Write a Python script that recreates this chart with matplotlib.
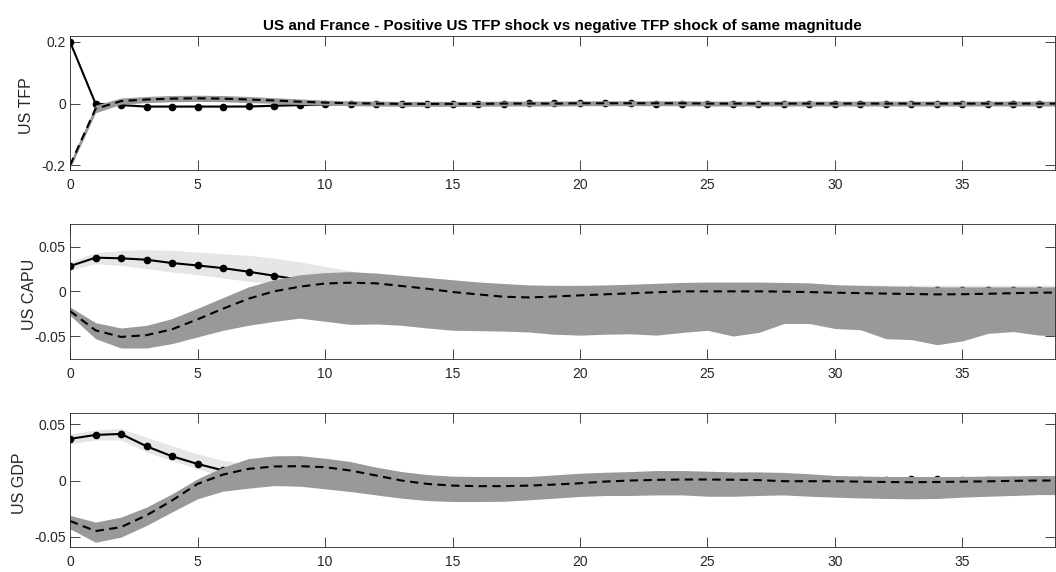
"""Impulse responses, US and France: positive US TFP shock vs a negative
TFP shock of the same size. Solid line = positive shock (light band),
dashed line = negative shock (dark band). Saves out.png.
"""

import matplotlib
matplotlib.use("Agg")
import matplotlib.pyplot as plt
import numpy as np

horizon = list(range(40))
x_ticks = [0, 5, 10, 15, 20, 25, 30, 35]

# ---- US TFP --------------------------------------------------------
tfp_pos = [0.2, 0.0, -0.005, -0.0097, -0.0097, -0.0097, -0.0097, -0.0095, -0.007, -0.005,
           -0.003, -0.002, -0.001, 0.0, 0.0, 0.0, 0.0, 0.0, 0.001, 0.001,
           0.001, 0.001, 0.001, 0.0, 0.0, 0.0, 0.0, 0.0, 0.0, 0.0,
           0.0, 0.0, 0.0, 0.0, 0.0, 0.0, 0.0, 0.0, 0.0, 0.0]
tfp_pos_hi = [0.204, 0.004, -0.001, -0.006, -0.006, -0.006, -0.006, -0.006, -0.003, -0.001,
              0.001, 0.002, 0.003, 0.004, 0.004, 0.004, 0.004, 0.004, 0.005, 0.005,
              0.005, 0.005, 0.005, 0.004, 0.004, 0.004, 0.004, 0.004, 0.004, 0.004,
              0.004, 0.004, 0.004, 0.004, 0.004, 0.004, 0.004, 0.004, 0.004, 0.004]
tfp_pos_lo = [0.196, -0.004, -0.009, -0.013, -0.013, -0.013, -0.013, -0.013, -0.011, -0.009,
              -0.007, -0.006, -0.005, -0.004, -0.004, -0.004, -0.004, -0.004, -0.003, -0.003,
              -0.003, -0.003, -0.003, -0.004, -0.004, -0.004, -0.004, -0.004, -0.004, -0.004,
              -0.004, -0.004, -0.004, -0.004, -0.004, -0.004, -0.004, -0.004, -0.004, -0.004]
tfp_neg = [-0.2, -0.017, 0.008, 0.013, 0.016, 0.017, 0.016, 0.013, 0.01, 0.006,
           0.003, 0.001, 0.0, -0.001, -0.001, -0.001, -0.001, 0.0, 0.0, 0.0,
           0.001, 0.001, 0.001, 0.001, 0.001, 0.0, 0.0, 0.0, 0.0, 0.0,
           0.0, 0.0, 0.0, 0.0, 0.0, 0.0, 0.0, 0.0, 0.0, 0.0]
tfp_neg_hi = [-0.19, -0.005, 0.018, 0.023, 0.026, 0.027, 0.026, 0.023, 0.019, 0.015,
              0.011, 0.009, 0.008, 0.007, 0.007, 0.007, 0.007, 0.008, 0.008, 0.008,
              0.009, 0.009, 0.009, 0.009, 0.009, 0.008, 0.008, 0.008, 0.008, 0.008,
              0.008, 0.008, 0.008, 0.008, 0.008, 0.008, 0.008, 0.008, 0.008, 0.008]
tfp_neg_lo = [-0.21, -0.03, -0.002, 0.003, 0.006, 0.007, 0.006, 0.003, 0.001, -0.003,
              -0.005, -0.007, -0.008, -0.009, -0.009, -0.009, -0.009, -0.008, -0.008, -0.008,
              -0.007, -0.007, -0.007, -0.007, -0.007, -0.008, -0.008, -0.008, -0.008, -0.008,
              -0.008, -0.008, -0.008, -0.008, -0.008, -0.008, -0.008, -0.008, -0.008, -0.008]

# ---- US CAPU -------------------------------------------------------
capu_pos = [0.0283, 0.0377, 0.037, 0.0354, 0.0317, 0.029, 0.026, 0.022, 0.0175, 0.013,
            0.009, 0.006, 0.004, 0.003, 0.002, 0.002, 0.002, 0.002, 0.002, 0.002,
            0.002, 0.002, 0.002, 0.002, 0.002, 0.002, 0.002, 0.002, 0.002, 0.002,
            0.0015, 0.0015, 0.0015, 0.0018, 0.0018, 0.0018, 0.0018, 0.0018, 0.0018, 0.0018]
capu_pos_hi = [0.0328, 0.0433, 0.0459, 0.0466, 0.046, 0.044, 0.0421, 0.0403, 0.0373, 0.033,
               0.028, 0.023, 0.018, 0.015, 0.012, 0.010, 0.009, 0.008, 0.007, 0.006,
               0.006, 0.006, 0.006, 0.006, 0.006, 0.006, 0.006, 0.006, 0.006, 0.006,
               0.0065, 0.0068, 0.007, 0.007, 0.007, 0.007, 0.007, 0.007, 0.007, 0.007]
capu_pos_lo = [0.0235, 0.031, 0.029, 0.0254, 0.0216, 0.0187, 0.0149, 0.0112, 0.0086, 0.005,
               0.002, -0.001, -0.002, -0.003, -0.003, -0.003, -0.003, -0.003, -0.003, -0.003,
               -0.003, -0.003, -0.003, -0.003, -0.003, -0.003, -0.003, -0.003, -0.003, -0.003,
               -0.003, -0.003, -0.003, -0.003, -0.003, -0.003, -0.003, -0.003, -0.003, -0.003]
capu_neg = [-0.022, -0.0436, -0.051, -0.049, -0.0425, -0.0313, -0.0194, -0.0082, 0.0, 0.0052,
            0.0088, 0.0097, 0.009, 0.006, 0.003, -0.0007, -0.0034, -0.006, -0.0068, -0.0058,
            -0.0045, -0.0033, -0.0022, -0.001, 0.0, 0.0, 0.0, 0.0, -0.0003, -0.0008,
            -0.0015, -0.002, -0.0025, -0.003, -0.0034, -0.0032, -0.0027, -0.002, -0.0015, -0.0012]
capu_neg_hi = [-0.0175, -0.035, -0.041, -0.038, -0.0305, -0.019, -0.007, 0.005, 0.013, 0.0185,
               0.021, 0.022, 0.0205, 0.018, 0.0155, 0.013, 0.0105, 0.0088, 0.0072, 0.0067,
               0.0067, 0.0072, 0.008, 0.009, 0.01, 0.0104, 0.0104, 0.0104, 0.01, 0.0095,
               0.0075, 0.0068, 0.006, 0.0055, 0.005, 0.005, 0.005, 0.005, 0.005, 0.005]
capu_neg_lo = [-0.0268, -0.053, -0.0634, -0.0634, -0.0585, -0.051, -0.0436, -0.038, -0.0336, -0.030,
               -0.0335, -0.037, -0.0365, -0.038, -0.041, -0.0435, -0.044, -0.0445, -0.0455, -0.048,
               -0.049, -0.048, -0.0475, -0.049, -0.046, -0.0436, -0.05, -0.046, -0.036, -0.036,
               -0.0416, -0.043, -0.053, -0.054, -0.0597, -0.0555, -0.047, -0.045, -0.049, -0.05]

# ---- US GDP --------------------------------------------------------
gdp_pos = [0.0371, 0.0406, 0.0415, 0.0305, 0.0216, 0.0148, 0.009, 0.007, 0.006, 0.005,
           0.004, 0.003, 0.002, 0.001, 0.0005, 0.0, 0.0, 0.0, 0.0, 0.0005,
           0.001, 0.0015, 0.002, 0.002, 0.002, 0.002, 0.002, 0.0015, 0.001, 0.0005,
           0.0005, 0.0005, 0.0005, 0.001, 0.001, 0.0005, 0.0005, 0.0005, 0.0005, 0.0005]
gdp_pos_hi = [0.0415, 0.045, 0.0465, 0.0385, 0.031, 0.0237, 0.0178, 0.015, 0.013, 0.012,
              0.011, 0.010, 0.009, 0.007, 0.005, 0.003, 0.003, 0.003, 0.003, 0.004,
              0.005, 0.006, 0.006, 0.006, 0.006, 0.006, 0.006, 0.006, 0.006, 0.004,
              0.003, 0.003, 0.003, 0.003, 0.003, 0.003, 0.003, 0.003, 0.003, 0.003]
gdp_pos_lo = [0.0326, 0.0362, 0.0362, 0.0252, 0.0178, 0.0104, 0.004, 0.0, -0.004, -0.005,
              -0.006, -0.006, -0.006, -0.006, -0.006, -0.006, -0.006, -0.006, -0.006, -0.006,
              -0.005, -0.005, -0.005, -0.005, -0.005, -0.005, -0.005, -0.005, -0.005, -0.005,
              -0.005, -0.005, -0.005, -0.005, -0.005, -0.005, -0.005, -0.005, -0.005, -0.005]
gdp_neg = [-0.036, -0.045, -0.0415, -0.031, -0.0178, -0.003, 0.0053, 0.0104, 0.0125, 0.0128,
           0.0119, 0.0089, 0.0045, 0.0, -0.003, -0.0045, -0.005, -0.005, -0.0045, -0.0036,
           -0.0024, -0.0009, 0.0, 0.0006, 0.0009, 0.0009, 0.0007, 0.0004, -0.0006, -0.0006,
           -0.0006, -0.001, -0.0013, -0.0015, -0.0013, -0.001, -0.0007, -0.0003, 0.0, 0.0]
gdp_neg_hi = [-0.031, -0.037, -0.0326, -0.0237, -0.0119, 0.0015, 0.0119, 0.0195, 0.022, 0.0222,
              0.0199, 0.0169, 0.0119, 0.008, 0.0053, 0.0039, 0.0036, 0.0036, 0.0036, 0.005,
              0.0065, 0.0074, 0.008, 0.0089, 0.0089, 0.0083, 0.0077, 0.0077, 0.0072, 0.006,
              0.0045, 0.004, 0.0036, 0.0036, 0.0036, 0.0036, 0.004, 0.0042, 0.0045, 0.0045]
gdp_neg_lo = [-0.043, -0.055, -0.0504, -0.04, -0.028, -0.0163, -0.0095, -0.0068, -0.0045, -0.005,
              -0.0074, -0.0098, -0.0128, -0.0157, -0.0178, -0.0187, -0.0187, -0.0185, -0.0172, -0.0157,
              -0.0142, -0.0133, -0.0133, -0.0128, -0.0128, -0.014, -0.014, -0.0133, -0.0128, -0.014,
              -0.0148, -0.0155, -0.016, -0.0163, -0.016, -0.0148, -0.014, -0.0133, -0.0125, -0.0125]

panels = [
    ("US TFP", tfp_pos, tfp_pos_lo, tfp_pos_hi, tfp_neg, tfp_neg_lo, tfp_neg_hi,
     (-0.215, 0.22), [-0.2, 0, 0.2]),
    ("US CAPU", capu_pos, capu_pos_lo, capu_pos_hi, capu_neg, capu_neg_lo, capu_neg_hi,
     (-0.0757, 0.0754), [-0.05, 0, 0.05]),
    ("US GDP", gdp_pos, gdp_pos_lo, gdp_pos_hi, gdp_neg, gdp_neg_lo, gdp_neg_hi,
     (-0.0592, 0.060), [-0.05, 0, 0.05]),
]

# axes boxes in figure fractions (left, bottom, width, height)
boxes = [
    (0.0663, 0.7028, 0.9328, 0.235),
    (0.0663, 0.3724, 0.9328, 0.236),
    (0.0663, 0.0437, 0.9328, 0.234),
]
# right edge of each y label, in axes fraction
label_x = [-0.037, -0.034, -0.044]

plt.rcParams["font.family"] = ["Liberation Sans", "DejaVu Sans"]
plt.rcParams["axes.unicode_minus"] = False

fig = plt.figure(figsize=(10.56, 5.72), dpi=100)
edge = "#262626"

for (label, pos, pos_lo, pos_hi, neg, neg_lo, neg_hi, ylim, yticks), box, lx in zip(
        panels, boxes, label_x):
    ax = fig.add_axes(box)
    x = np.array(horizon)
    # positive shock: light band then solid line with markers
    ax.fill_between(x, pos_lo, pos_hi, color="#e6e6e6", linewidth=0, zorder=1)
    ax.plot(x, pos, color="black", linewidth=1.5, marker="o", markersize=4.5, zorder=2)
    # negative shock: dark band drawn on top of it, dashed line last
    ax.fill_between(x, neg_lo, neg_hi, color="#999999", linewidth=0, zorder=3)
    ax.plot(x, neg, color="black", linewidth=1.5, linestyle="--", dashes=(4, 2.6), zorder=4)

    ax.set_xlim(0, 38.63)
    ax.set_ylim(*ylim)
    ax.set_xticks(x_ticks)
    ax.set_yticks(yticks)
    ax.set_yticklabels([f"{t:g}" for t in yticks])
    ax.set_ylabel(label, fontsize=11.5, color=edge)
    ax.yaxis.set_label_coords(lx, 0.48)
    ax.tick_params(direction="in", length=7, width=0.6, colors=edge, labelsize=10,
                   top=True, right=True, pad=6)
    ax.tick_params(axis="y", pad=3)
    for sp in ax.spines.values():
        sp.set_color(edge)
        sp.set_linewidth(0.6)
        sp.set_zorder(5)

fig.axes[0].set_title(
    "US and France - Positive US TFP shock vs negative TFP shock of same magnitude",
    fontsize=11, fontweight="bold", pad=4)

fig.savefig("out.png", dpi=100)
